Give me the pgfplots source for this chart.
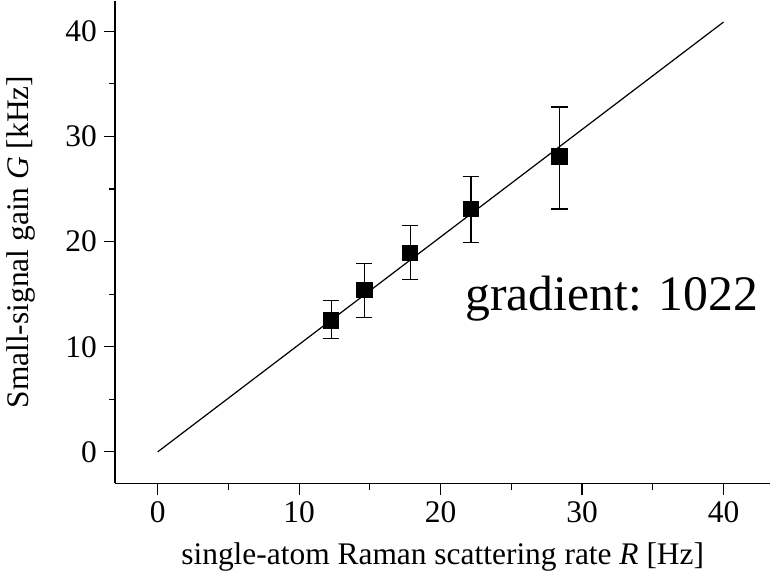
\documentclass[border=0pt]{standalone}
\usepackage{fontspec}
\setmainfont{Liberation Serif}
\usepackage{pgfplots}
\pgfplotsset{compat=1.18}

\begin{document}
\begin{tikzpicture}
\begin{axis}[
  scale only axis,
  width=323pt,
  height=238pt,
  xmin=-3, xmax=43.3,
  ymin=-3, ymax=42.9,
  axis x line*=bottom,
  axis y line*=left,
  axis line style={-, line width=0.8pt},
  tick align=outside,
  major tick length=5.5pt,
  minor tick length=3pt,
  xtick={0,10,20,30,40},
  ytick={0,10,20,30,40},
  minor x tick num=1,
  minor y tick num=1,
  tick style={black, line width=0.6pt},
  ticklabel style={font=\fontsize{15.5}{18}\selectfont},
  /pgf/number format/assume math mode=true,
  xlabel={single-atom Raman scattering rate \textit{R} [Hz]},
  ylabel={Small-signal gain \textit{G} [kHz]},
  label style={font=\fontsize{15.5}{18}\selectfont},
  xlabel style={yshift=-3pt},
  ylabel style={yshift=8pt},
  clip=false,
]
\addplot[black, line width=0.6pt] coordinates {(0,0) (40,40.88)};
\addplot[
  black, only marks, mark=square*, mark size=3.8pt,
  error bars/.cd, y dir=both, y explicit,
  error bar style={line width=0.6pt},
  error mark options={rotate=90, mark size=4pt, line width=0.6pt}
] coordinates {
  (12.26,12.5) += (0,1.9) -= (0,1.7)
  (14.6,15.4) += (0,2.5) -= (0,2.6)
  (17.85,18.9) += (0,2.6) -= (0,2.5)
  (22.15,23.1) += (0,3.1) -= (0,3.2)
  (28.4,28.1) += (0,4.7) -= (0,5.0)
};
\node[font=\fontsize{24.5}{28}\selectfont] at (axis cs:32.1,14.6) {gradient: 1022};
\end{axis}
\end{tikzpicture}
\end{document}
